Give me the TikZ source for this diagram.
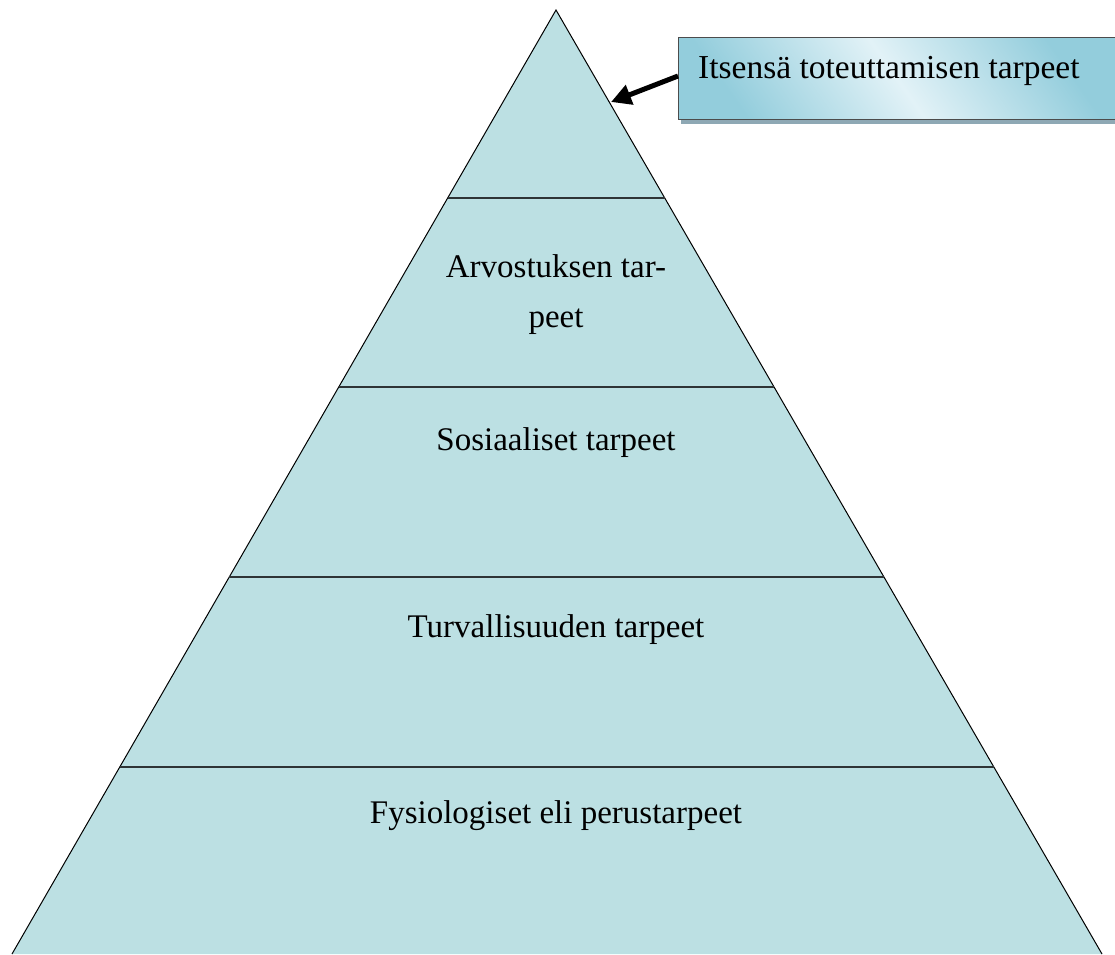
\documentclass[tikz,border=0pt]{standalone}
\usepackage{fontspec}
\setmainfont{Liberation Serif}
\usetikzlibrary{arrows.meta,shadings}
\definecolor{pyrfill}{HTML}{BCE0E3}
\definecolor{boxdark}{HTML}{93CDDC}
\definecolor{boxlight}{HTML}{E2F2F7}
\definecolor{shadowc}{HTML}{8EA8B4}
\definecolor{divline}{HTML}{2E3436}
\tikzset{
  tierlabel/.style={font=\fontsize{33}{40}\selectfont, align=center, inner sep=0pt},
  divider/.style={draw=divline, line width=2pt},
  callout/.style={font=\fontsize{33.5}{40}\selectfont, anchor=west, inner sep=0pt},
}
\begin{document}
\begin{tikzpicture}[x=1pt,y=-1pt]
\useasboundingbox (0,0) rectangle (1115,954);
% pyramid
\coordinate (apex) at (556,10);
\coordinate (bl) at (12,954);
\coordinate (br) at (1102,954);
\fill[pyrfill] (apex) -- (bl) -- (br) -- cycle;
\draw[black, line width=1pt] (bl) -- (apex) -- (br);
% dividers
\coordinate (d1l) at (447.7,198); \coordinate (d1r) at (664.7,198);
\coordinate (d2l) at (338.7,387); \coordinate (d2r) at (774.0,387);
\coordinate (d3l) at (229.3,577); \coordinate (d3r) at (883.9,577);
\coordinate (d4l) at (119.8,767); \coordinate (d4r) at (993.8,767);
\draw[divider] (d1l) -- (d1r);
\draw[divider] (d2l) -- (d2r);
\draw[divider] (d3l) -- (d3r);
\draw[divider] (d4l) -- (d4r);
% labels
\node[tierlabel] (t2a) at (556,266) {Arvostuksen tar-};
\node[tierlabel] (t2b) at (556,322) {peet};
\node[tierlabel] (t3) at (556,443) {Sosiaaliset tarpeet};
\node[tierlabel] (t4) at (556,630) {Turvallisuuden tarpeet};
\node[tierlabel] (t5) at (556,816) {Fysiologiset eli perustarpeet};
% callout box
\fill[shadowc] (681,41) rectangle (1118,124);
\shade[top color=boxdark, bottom color=boxdark, middle color=boxlight, shading angle=-55]
  (678,37) rectangle (1115,119);
\draw[black!70, line width=1pt] (1118,37) -- (678,37) -- (678,119) -- (1118,119);
\node[callout] (top) at (698,71) {Itsensä toteuttamisen tarpeet};
\coordinate (boxedge) at (678,76);
\coordinate (tip) at (611,102);
\draw[black, line width=5pt, -{Triangle[length=20pt,width=20pt]}] (boxedge) -- (tip);
\end{tikzpicture}
\end{document}
